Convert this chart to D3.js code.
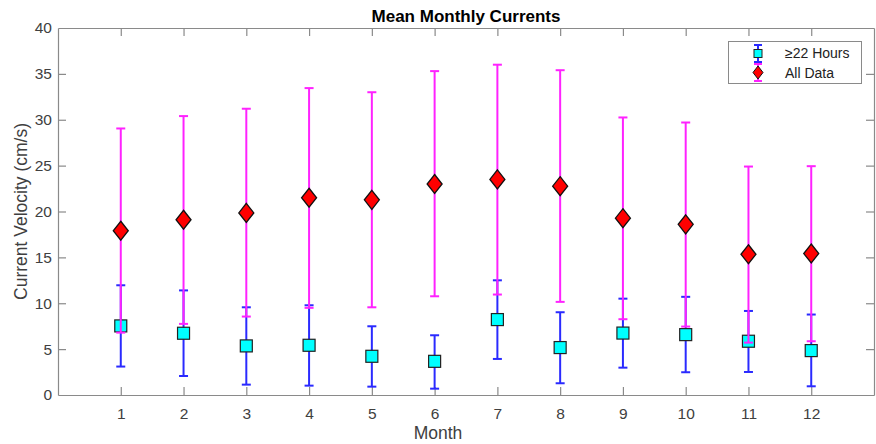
<!DOCTYPE html>
<html><head><meta charset="utf-8">
<script src="https://cdn.jsdelivr.net/npm/d3@7"></script>
<style>body{margin:0;background:#fff;} svg{display:block;font-family:"Liberation Sans",Arial,sans-serif;}</style>
</head><body><svg id="c" width="876" height="444"></svg>
<script>
const months = [1,2,3,4,5,6,7,8,9,10,11,12];
const hrsMean = [7.53,6.73,5.35,5.42,4.22,3.67,8.22,5.17,6.75,6.58,5.86,4.84];
const hrsLow  = [3.10,2.07,1.13,1.02,0.91,0.69,3.93,1.28,2.98,2.48,2.51,0.95];
const hrsHigh = [11.96,11.40,9.56,9.78,7.49,6.51,12.50,9.02,10.50,10.70,9.16,8.77];
const allMean = [17.9,19.1,19.85,21.5,21.27,23.0,23.5,22.76,19.27,18.6,15.34,15.42];
const allLow  = [6.80,7.75,8.55,9.50,9.56,10.76,10.95,10.15,8.26,7.46,5.71,5.86];
const allHigh = [29.05,30.4,31.2,33.45,33.0,35.3,36.0,35.4,30.25,29.7,24.9,24.94];
const yTicks = [0,5,10,15,20,25,30,35,40];
const seriesNames = ["\u226522 Hours","All Data"];

const svg = d3.select("#c");
const L=58, R=874, T=28, B=395;
const x = d3.scaleLinear().domain([0,13]).range([L,R]);
const y = d3.scaleLinear().domain([0,40]).range([B,T]);
const axisCol="#8a8a8a", textCol="#404040";

const gx = svg.append("g").attr("transform",`translate(0,${B})`)
  .call(d3.axisBottom(x).tickValues(months).tickSizeInner(-8).tickSizeOuter(0).tickPadding(13));
const gxt = svg.append("g").attr("transform",`translate(0,${T})`)
  .call(d3.axisTop(x).tickValues(months).tickSizeInner(-8).tickSizeOuter(0).tickFormat(""));
const gy = svg.append("g").attr("transform",`translate(${L},0)`)
  .call(d3.axisLeft(y).tickValues(yTicks).tickSizeInner(-8).tickSizeOuter(0).tickPadding(6));
const gyr = svg.append("g").attr("transform",`translate(${R},0)`)
  .call(d3.axisRight(y).tickValues(yTicks).tickSizeInner(-8).tickSizeOuter(0).tickFormat(""));
[gx,gxt,gy,gyr].forEach(g=>{
  g.selectAll("path").attr("stroke",axisCol).attr("stroke-width",1.2);
  g.selectAll("line").attr("stroke",axisCol).attr("stroke-width",1.2);
  g.selectAll("text").attr("fill",textCol).style("font-size","15.5px").style("font-family","Liberation Sans, Arial, sans-serif");
});
gy.selectAll(".tick").filter(d=>d===0||d===40).select("line").remove();
gyr.selectAll(".tick").filter(d=>d===0||d===40).select("line").remove();

svg.append("text").attr("x",(L+R)/2).attr("y",22).attr("text-anchor","middle")
  .style("font-size","17px").style("font-weight","bold").attr("fill","#000").text("Mean Monthly Currents");
svg.append("text").attr("x",438).attr("y",439).attr("text-anchor","middle")
  .style("font-size","17.5px").attr("fill",textCol).text("Month");
svg.append("text").attr("transform",`translate(27,${(T+B)/2}) rotate(-90)`).attr("text-anchor","middle")
  .style("font-size","17.5px").attr("fill",textCol).text("Current Velocity (cm/s)");

function errorbars(g, lo, hi, col){
  const cap=4.5;
  months.forEach((m,i)=>{
    const xx=x(m);
    g.append("line").attr("x1",xx).attr("x2",xx).attr("y1",y(lo[i])).attr("y2",y(hi[i])).attr("stroke",col).attr("stroke-width",2);
    g.append("line").attr("x1",xx-cap).attr("x2",xx+cap).attr("y1",y(lo[i])).attr("y2",y(lo[i])).attr("stroke",col).attr("stroke-width",2);
    g.append("line").attr("x1",xx-cap).attr("x2",xx+cap).attr("y1",y(hi[i])).attr("y2",y(hi[i])).attr("stroke",col).attr("stroke-width",2);
  });
}
const blue="#2a2aff", mag="#ff22ff";
const g1=svg.append("g"), g2=svg.append("g");
errorbars(g1, hrsLow, hrsHigh, blue);
g1.selectAll("rect.sq").data(months).enter().append("rect")
  .attr("x",(d)=>x(d)-6).attr("y",(d,i)=>y(hrsMean[i])-6).attr("width",12).attr("height",12)
  .attr("fill","#00ffff").attr("stroke","#222").attr("stroke-width",1.2);
errorbars(g2, allLow, allHigh, mag);
const dia=(cx,cy,w,h)=>`M${cx},${cy-h/2}L${cx+w/2},${cy}L${cx},${cy+h/2}L${cx-w/2},${cy}Z`;
g2.selectAll("path.dm").data(months).enter().append("path")
  .attr("d",(d,i)=>dia(x(d),y(allMean[i]),15,19))
  .attr("fill","#ff0000").attr("stroke","#111").attr("stroke-width",1.3);

const lg=svg.append("g");
lg.append("rect").attr("x",728.5).attr("y",41.5).attr("width",133).attr("height",42)
  .attr("fill","#fff").attr("stroke",axisCol).attr("stroke-width",1);
const lx=758;
lg.append("line").attr("x1",lx).attr("x2",lx).attr("y1",45).attr("y2",62).attr("stroke",blue).attr("stroke-width",2);
lg.append("line").attr("x1",lx-4).attr("x2",lx+4).attr("y1",45).attr("y2",45).attr("stroke",blue).attr("stroke-width",2);
lg.append("line").attr("x1",lx-4).attr("x2",lx+4).attr("y1",62).attr("y2",62).attr("stroke",blue).attr("stroke-width",2);
lg.append("rect").attr("x",lx-4).attr("y",49.5).attr("width",8).attr("height",8).attr("fill","#00ffff").attr("stroke","#222").attr("stroke-width",1);
lg.append("line").attr("x1",lx).attr("x2",lx).attr("y1",64).attr("y2",81).attr("stroke",mag).attr("stroke-width",2);
lg.append("line").attr("x1",lx-4).attr("x2",lx+4).attr("y1",64).attr("y2",64).attr("stroke",mag).attr("stroke-width",2);
lg.append("line").attr("x1",lx-4).attr("x2",lx+4).attr("y1",81).attr("y2",81).attr("stroke",mag).attr("stroke-width",2);
lg.append("path").attr("d",dia(lx,72.5,10,13)).attr("fill","#ff0000").attr("stroke","#111").attr("stroke-width",1);
lg.append("text").attr("x",785).attr("y",58).style("font-size","14px").attr("fill","#222").text(seriesNames[0]);
lg.append("text").attr("x",785).attr("y",78).style("font-size","14px").attr("fill","#222").text(seriesNames[1]);
</script></body></html>
